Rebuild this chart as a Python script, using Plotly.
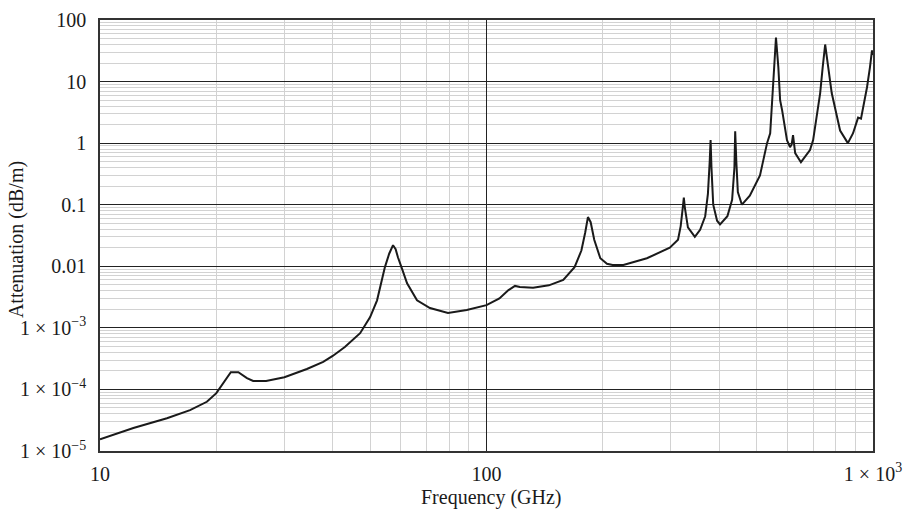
import plotly.graph_objects as go

freq_ghz = [10, 12.2, 14.9, 17.1, 18.9, 20, 21.8, 22.8, 24.0, 24.9, 26.9, 30, 34.3, 37.8, 40,
            43, 47.1, 50, 52.1, 54.6, 56, 57.3, 58.2, 59, 60.5, 62.3, 66.1, 71.4, 79.5, 88.9,
            100, 108, 114, 118.5, 122, 132, 145, 158, 169, 176, 180, 183, 186, 190, 197, 205,
            212, 226, 260, 298, 313, 318, 322, 324, 326, 332, 346, 357, 368, 374, 378, 380,
            382, 386, 395, 402, 420, 432, 438, 440, 443, 447, 458, 480, 510, 532, 542, 548,
            555, 561, 569, 575, 582, 599, 610, 616, 621, 625, 629, 651, 687, 700, 730, 741,
            752, 766, 782, 822, 861, 888, 905, 915, 931, 950, 965, 982, 994, 1000]
atten_db_m = [1.55e-5, 2.36e-5, 3.4e-5, 4.6e-5, 6.3e-5, 8.7e-5, 1.9e-4, 1.9e-4, 1.53e-4, 1.37e-4,
              1.37e-4, 1.58e-4, 2.15e-4, 2.8e-4, 3.5e-4,
              4.9e-4, 8.2e-4, 1.5e-3, 2.8e-3, 9.7e-3, 0.016, 0.022, 0.019, 0.014, 0.009, 5.3e-3,
              2.8e-3, 2.1e-3, 1.74e-3, 1.95e-3,
              2.34e-3, 3.0e-3, 4.1e-3, 4.8e-3, 4.6e-3, 4.5e-3, 4.9e-3, 6.0e-3, 9.7e-3, 0.018,
              0.035, 0.063, 0.052, 0.027, 0.0135, 0.011,
              0.0105, 0.0105, 0.0135, 0.020, 0.027, 0.045, 0.09, 0.13, 0.09, 0.043, 0.030, 0.039,
              0.065, 0.15, 0.5, 1.12,
              0.4, 0.1, 0.055, 0.048, 0.065, 0.12, 0.4, 1.56, 0.5, 0.16, 0.10, 0.14, 0.30, 1.0,
              1.45, 5.0,
              17, 52, 17, 5, 3.4, 1.12, 0.86, 0.95, 1.35, 0.95, 0.69, 0.49, 0.77, 1.12, 6.5, 17,
              40, 17, 6.5, 1.6, 1.0, 1.45, 2.2, 2.6, 2.5, 4.5, 8.1, 17, 32, 27]

x_tick_vals = [10, 100, 1000]
x_tick_text = ["10", "100", "1 × 10<sup>3</sup>"]
y_tick_vals = [1e-5, 1e-4, 1e-3, 0.01, 0.1, 1, 10, 100]
y_tick_text = ["1 × 10<sup>−5</sup>", "1 × 10<sup>−4</sup>", "1 × 10<sup>−3</sup>",
               "0.01", "0.1", "1", "10", "100"]

x_minor = [m * d for d in (10, 100) for m in range(2, 10)]
y_minor = [m * d for d in (1e-5, 1e-4, 1e-3, 1e-2, 1e-1, 1, 10) for m in range(2, 10)]

FONT = "Liberation Serif, Times New Roman, serif"

fig = go.Figure()
fig.add_trace(go.Scatter(x=freq_ghz, y=atten_db_m, mode="lines",
                         line=dict(color="#1a1a1a", width=2), showlegend=False,
                         hoverinfo="x+y"))

fig.update_layout(
    width=904, height=504,
    margin=dict(l=92, r=39, t=12, b=61),
    paper_bgcolor="white", plot_bgcolor="white",
    font=dict(family=FONT, size=20, color="#1a1a1a"),
    xaxis=dict(type="log", range=[1, 3], tickvals=x_tick_vals, ticktext=x_tick_text,
               automargin=False,
               showgrid=True, gridcolor="#222222", gridwidth=1.2,
               showline=True, mirror=True, linecolor="#333333", linewidth=1.5,
               ticks="", ticklabelstandoff=4, zeroline=False,
               minor=dict(tickvals=x_minor, showgrid=True, gridcolor="#d2d2d2",
                          gridwidth=1, ticks="")),
    yaxis=dict(type="log", range=[-5, 2], tickvals=y_tick_vals, ticktext=y_tick_text,
               automargin=False,
               showgrid=True, gridcolor="#222222", gridwidth=1.2,
               showline=True, mirror=True, linecolor="#333333", linewidth=1.5,
               ticks="", ticklabelstandoff=8, zeroline=False,
               minor=dict(tickvals=y_minor, showgrid=True, gridcolor="#d2d2d2",
                          gridwidth=1, ticks="")),
    annotations=[
        dict(text="Frequency (GHz)", xref="paper", yref="paper", x=0.506, y=-0.107,
             xanchor="center", yanchor="middle", showarrow=False,
             font=dict(family=FONT, size=20, color="#1a1a1a")),
        dict(text="Attenuation (dB/m)", xref="paper", yref="paper", x=-0.107, y=0.49,
             xanchor="center", yanchor="middle", textangle=-90, showarrow=False,
             font=dict(family=FONT, size=20, color="#1a1a1a")),
    ],
)

fig.write_html("out.html")
